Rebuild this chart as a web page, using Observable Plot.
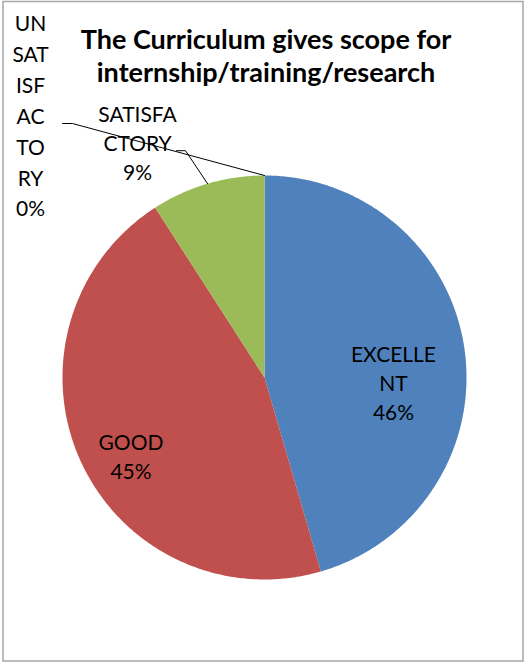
<!DOCTYPE html>
<html>
<head>
<meta charset="utf-8">
<script src="https://cdn.jsdelivr.net/npm/d3@7"></script>
<script src="https://cdn.jsdelivr.net/npm/@observablehq/plot@0.6"></script>
<style>
  html, body { margin: 0; padding: 0; background: #fff; }
  svg { display: block; }
</style>
</head>
<body>
<div id="chart"></div>
<script>
// ---- data ----
const title = "The Curriculum gives scope for\ninternship/training/research";
const categories = ["EXCELLENT", "GOOD", "SATISFACTORY", "UNSATISFACTORY"];
const values = [45.5, 45.4, 9.1, 0];
const wrappedNames = ["EXCELLE\nNT", "GOOD", "SATISFA\nCTORY", "UN\nSAT\nISF\nAC\nTO\nRY"];
const colors = ["#4F81BD", "#C0504D", "#9BBB59", "#8064A2"];

// ---- layout helpers (styling, not data) ----
const W = 525, H = 662;
const cx = 264, cy = 377, R = 202;
const font = "Lato, 'Open Sans', sans-serif";

const total = d3.sum(values);
const arcs = d3.pie().sort(null).value(d => d.value)
  (categories.map((c, i) => ({category: c, value: values[i], i})));

// polygon points for each slice (unit circle, y up, clockwise from 12 o'clock)
const slicePts = [];
arcs.forEach(a => {
  if (a.endAngle - a.startAngle <= 0) return;
  slicePts.push({category: a.data.category, x: 0, y: 0});
  const n = Math.max(2, Math.ceil((a.endAngle - a.startAngle) / 0.01));
  for (let k = 0; k <= n; k++) {
    const t = a.startAngle + (a.endAngle - a.startAngle) * k / n;
    slicePts.push({category: a.data.category, x: Math.sin(t), y: Math.cos(t)});
  }
  slicePts.push({category: a.data.category, x: 0, y: 0});
});

// label positions derived from mid-angles; per-label pixel nudges
const nudge = {
  EXCELLENT: {r: 0.65, dx: -1, dy: 23, inside: true, lh: 1.38},
  GOOD: {r: 0.65, dx: -14, dy: 23, inside: true, lh: 1.38},
  SATISFACTORY: {r: 1, dx: -70, dy: -42, inside: false, lh: 1.38, elbow: [-22, -33], end: [-31, -33]},
  UNSATISFACTORY: {r: 1, dx: -234, dy: -61.5, inside: false, lh: 1.47, elbow: [-192, -52], end: [-202, -52]}
};
const labels = arcs.map(a => {
  const m = (a.startAngle + a.endAngle) / 2;
  const o = nudge[a.data.category];
  return {
    category: a.data.category,
    text: wrappedNames[a.data.i] + "\n" + Math.round(100 * a.data.value / total) + "%",
    x: o.r * Math.sin(m), y: o.r * Math.cos(m),
    ex: Math.sin(m), ey: Math.cos(m),
    dx: o.dx, dy: o.dy, o
  };
});

const leaderPts = [];
labels.filter(l => !l.o.inside).forEach(l => {
  leaderPts.push({category: l.category, x: l.ex, y: l.ey});
  leaderPts.push({category: l.category, x: l.ex + l.o.elbow[0] / R, y: l.ey - l.o.elbow[1] / R});
  leaderPts.push({category: l.category, x: l.ex + l.o.end[0] / R, y: l.ey - l.o.end[1] / R});
});

const textMarks = labels.map(l => Plot.text([l], {
  x: "x", y: "y", text: "text", dx: l.dx, dy: l.dy,
  fontSize: 21, fill: "#000", lineAnchor: "middle",
  lineHeight: l.o.lh,
  fontFamily: font
}));

const chart = Plot.plot({
  width: W, height: H,
  margin: 0,
  x: {domain: [-1, 1], range: [cx - R, cx + R], axis: null},
  y: {domain: [-1, 1], range: [cy + R, cy - R], axis: null},
  color: {domain: categories, range: colors},
  style: {fontFamily: font, background: "#fff"},
  marks: [
    Plot.frame({stroke: "#a6a6a6", strokeWidth: 1.5, insetLeft: 2.5, insetTop: 1, insetRight: 2.5, insetBottom: 1.5}),
    Plot.line(slicePts, {x: "x", y: "y", z: "category", fill: "category", stroke: "none", curve: "linear-closed"}),
    Plot.line(leaderPts, {x: "x", y: "y", z: "category", stroke: "#000", strokeWidth: 1}),
    ...textMarks,
    Plot.text([title], {frameAnchor: "top", dx: 3, dy: 54, text: d => d, fontSize: 27, fontWeight: "bold",
      lineAnchor: "middle", lineHeight: 1.22, fill: "#000", fontFamily: font})
  ]
});
document.getElementById("chart").append(chart);
</script>
</body>
</html>
